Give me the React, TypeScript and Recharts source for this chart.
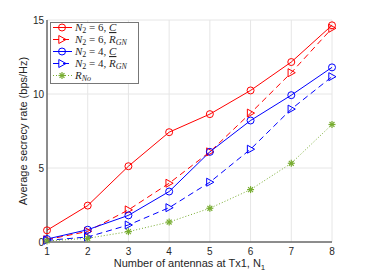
import React from 'react';
import { LineChart, Line, XAxis, YAxis, CartesianGrid } from 'recharts';

const antennas = [1, 2, 3, 4, 5, 6, 7, 8];
const n6Capacity = [0.79, 2.46, 5.12, 7.42, 8.64, 10.24, 12.16, 14.64];
const n6Rgn = [0.16, 0.72, 2.17, 3.97, 6.09, 8.71, 11.44, 14.44];
const n4Capacity = [0.2, 0.83, 1.8, 3.41, 6.09, 8.21, 9.92, 11.8];
const n4Rgn = [0.11, 0.34, 1.15, 2.32, 4.04, 6.27, 8.98, 11.17];
const rNo = [0.07, 0.25, 0.7, 1.35, 2.28, 3.54, 5.32, 7.94];
const yTicks = [0, 5, 10, 15];

const data = antennas.map((n, i) => ({
  n,
  n6c: n6Capacity[i],
  n6r: n6Rgn[i],
  n4c: n4Capacity[i],
  n4r: n4Rgn[i],
  rno: rNo[i],
}));

const RED = '#ff0000';
const BLUE = '#0000ff';
const GREEN = '#77ac30';
const TXT = '#262626';
const SANS = '"Liberation Sans", Arial, sans-serif';
const SERIF = '"Liberation Serif", "Times New Roman", serif';

const Circle = (color) => (p) => {
  const { cx, cy, key } = p;
  return <circle key={key} cx={cx} cy={cy} r={3.5} fill="none" stroke={color} strokeWidth={1} />;
};

const Tri = (color) => (p) => {
  const { cx, cy, key } = p;
  const s = 4;
  return (
    <polygon
      key={key}
      points={`${cx - s * 0.8},${cy - s} ${cx - s * 0.8},${cy + s} ${cx + s},${cy}`}
      fill="none"
      stroke={color}
      strokeWidth={1}
    />
  );
};

const Star = (color) => (p) => {
  const { cx, cy, key } = p;
  const s = 3.5;
  const d = s * 0.7;
  return (
    <g key={key} stroke={color} strokeWidth={1.2}>
      <line x1={cx - s} y1={cy} x2={cx + s} y2={cy} />
      <line x1={cx} y1={cy - s} x2={cx} y2={cy + s} />
      <line x1={cx - d} y1={cy - d} x2={cx + d} y2={cy + d} />
      <line x1={cx - d} y1={cy + d} x2={cx + d} y2={cy - d} />
    </g>
  );
};

const rows = [
  { color: RED, dash: undefined, marker: 'c', n: '6', kind: 'C' },
  { color: RED, dash: '6 4', marker: 't', n: '6', kind: 'R' },
  { color: BLUE, dash: undefined, marker: 'c', n: '4', kind: 'C' },
  { color: BLUE, dash: '6 4', marker: 't', n: '4', kind: 'R' },
  { color: GREEN, dash: '1 2', marker: 's', n: '', kind: 'No' },
];

const LegendBox = () => (
  <svg width={89} height={62} style={{ display: 'block' }}>
    <rect x={0.5} y={0.5} width={88} height={61} fill="#fff" stroke="#777" strokeWidth={1} />
    {rows.map((r, i) => {
      const y = 5.5 + i * 12;
      const mk = { cx: 12, cy: y, key: 'm' };
      return (
        <g key={i}>
          <line x1={3} y1={y} x2={22} y2={y} stroke={r.color} strokeWidth={1} strokeDasharray={r.dash} />
          {r.marker === 'c' ? Circle(r.color)(mk) : r.marker === 't' ? Tri(r.color)(mk) : Star(r.color)(mk)}
          <text x={25} y={y + 3.5} fontSize={11} fontFamily={SERIF} fill={TXT}>
            {r.kind === 'No' ? (
              <>
                <tspan fontStyle="italic">R</tspan>
                <tspan fontStyle="italic" fontSize={8} dy={2}>No</tspan>
              </>
            ) : (
              <>
                <tspan fontStyle="italic">N</tspan>
                <tspan fontSize={8} dy={2}>2</tspan>
                <tspan dy={-2}>{` = ${r.n}, `}</tspan>
                {r.kind === 'C' ? (
                  <tspan fontStyle="italic" textDecoration="underline">C</tspan>
                ) : (
                  <>
                    <tspan fontStyle="italic">R</tspan>
                    <tspan fontStyle="italic" fontSize={8} dy={2}>GN</tspan>
                  </>
                )}
              </>
            )}
          </text>
        </g>
      );
    })}
  </svg>
);

const XLabel = ({ viewBox }) => {
  const { x, y, width } = viewBox;
  return (
    <text x={x + width / 2} y={y + 25} textAnchor="middle" fontSize={11} fontFamily={SANS} fill={TXT}>
      Number of antennas at Tx1, N
      <tspan fontSize={8} dy={3}>1</tspan>
    </text>
  );
};

const YLabel = ({ viewBox }) => {
  const { y, height } = viewBox;
  const cx = 27;
  const cy = y + height / 2;
  return (
    <text
      x={cx}
      y={cy}
      transform={`rotate(-90 ${cx} ${cy})`}
      textAnchor="middle"
      fontSize={11}
      fontFamily={SANS}
      fill={TXT}
    >
      Average secrecy rate (bps/Hz)
    </text>
  );
};

export default function App() {
  return (
    <div style={{ position: 'absolute', left: 0, top: 0, width: 366, height: 274, background: '#fff' }}>
      <LineChart width={366} height={274} data={data} margin={{ top: 20, right: 34, bottom: 12, left: 17 }}>
        <CartesianGrid stroke="#e6e6e6" strokeWidth={1} />
        <XAxis
          dataKey="n"
          type="number"
          domain={[1, 8]}
          ticks={antennas}
          tickSize={0}
          tickMargin={6}
          height={20}
          stroke="#262626"
          tick={{ fontSize: 10, fontFamily: SANS, fill: TXT }}
          label={<XLabel />}
        />
        <YAxis
          type="number"
          domain={[0, 15]}
          ticks={yTicks}
          tickSize={0}
          tickMargin={3}
          width={30}
          stroke="#262626"
          tick={{ fontSize: 10, fontFamily: SANS, fill: TXT }}
          label={<YLabel />}
        />
        <Line type="linear" dataKey="n6c" stroke={RED} strokeWidth={1} dot={Circle(RED)} isAnimationActive={false} />
        <Line type="linear" dataKey="n6r" stroke={RED} strokeWidth={1} strokeDasharray="6 4" dot={Tri(RED)} isAnimationActive={false} />
        <Line type="linear" dataKey="n4c" stroke={BLUE} strokeWidth={1} dot={Circle(BLUE)} isAnimationActive={false} />
        <Line type="linear" dataKey="n4r" stroke={BLUE} strokeWidth={1} strokeDasharray="6 4" dot={Tri(BLUE)} isAnimationActive={false} />
        <Line type="linear" dataKey="rno" stroke={GREEN} strokeWidth={1} strokeDasharray="1 2" dot={Star(GREEN)} isAnimationActive={false} />
      </LineChart>
      <div style={{ position: 'absolute', left: 50, top: 22 }}>
        <LegendBox />
      </div>
    </div>
  );
}
